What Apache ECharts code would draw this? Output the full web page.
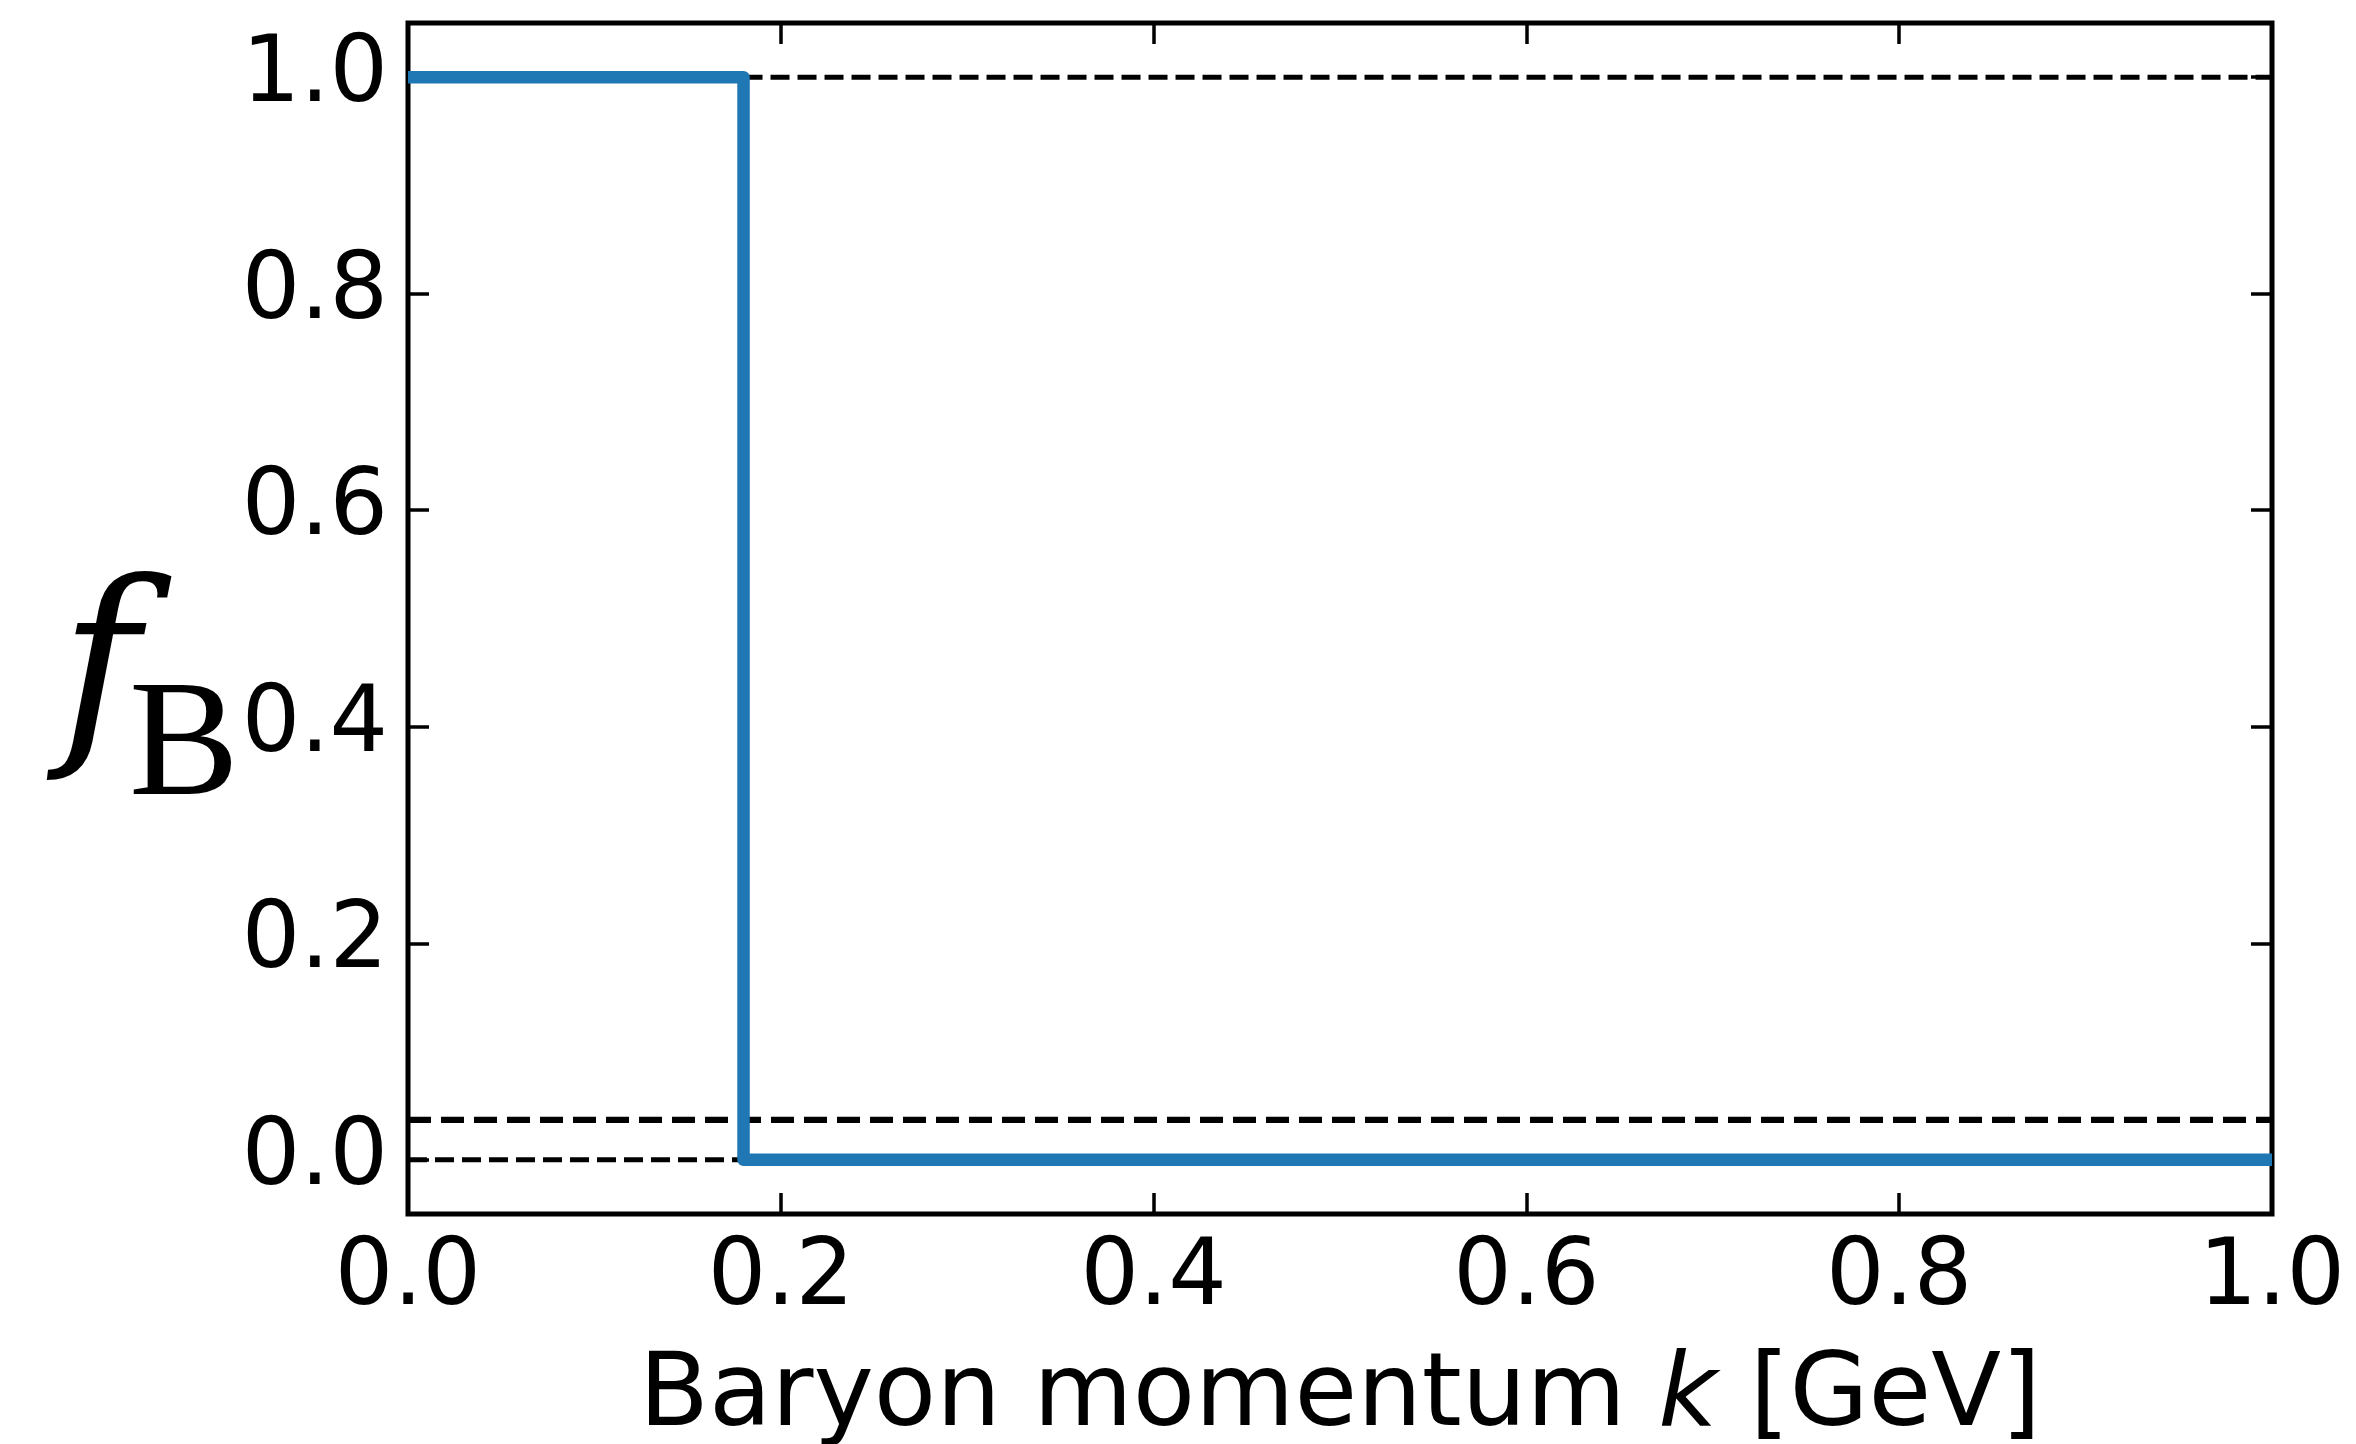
<!DOCTYPE html>
<html>
<head>
<meta charset="utf-8">
<script src="https://cdn.jsdelivr.net/npm/echarts@6/dist/echarts.min.js"></script>
<style>
  html, body { margin: 0; padding: 0; background: #fff; }
  #chart { width: 2356px; height: 1444px; }
</style>
</head>
<body>
<div id="chart"></div>
<script>
// Baryon occupation f_B(k): sharp step at the Fermi momentum
const stepK = [0, 0.18, 0.18, 1.0];
const stepF = [1, 1, 0, 0];

// Dashed reference levels
const upperRefK = [0.18, 1.0];
const upperRefF = [1, 1];
const lowerRefK = [0, 0.18];
const lowerRefF = [0, 0];
const offsetRefK = [0, 1.0];
const offsetRefF = [0.037, 0.037];

// Tick values
const xTicks = [0, 0.2, 0.4, 0.6, 0.8, 1.0];
const yTicks = [0, 0.2, 0.4, 0.6, 0.8, 1.0];

const pairs = (xs, ys) => xs.map((x, i) => [x, ys[i]]);

const FONT = 'DejaVu Sans';
const tickStyle = { color: '#000', width: 3.5 };
const noLine = { show: false, onZero: false };

const chart = echarts.init(document.getElementById('chart'), null, { renderer: 'canvas' });

chart.setOption({
  animation: false,
  backgroundColor: '#fff',
  grid: {
    left: 408, right: 84, top: 23, bottom: 230,
    outerBoundsMode: 'none', containLabel: false,
    show: true, borderColor: '#000', borderWidth: 5, backgroundColor: 'transparent'
  },
  xAxis: [
    {
      type: 'value', position: 'bottom', min: 0, max: 1, interval: 0.2,
      axisLine: noLine,
      splitLine: { show: false },
      axisTick: { show: true, inside: true, length: 21, lineStyle: tickStyle },
      axisLabel: {
        show: true, margin: 20, fontSize: 92, fontFamily: FONT, color: '#000',
        showMinLabel: true, showMaxLabel: true,
        formatter: v => v.toFixed(1)
      },
      name: '{n|Baryon momentum }{k|k}{n| [GeV]}',
      nameLocation: 'middle', nameGap: 133,
      nameTextStyle: {
        rich: {
          n: { fontSize: 102, fontFamily: FONT, color: '#000' },
          k: { fontSize: 102, fontFamily: FONT, fontStyle: 'italic', color: '#000' }
        }
      }
    },
    {
      type: 'value', position: 'top', min: 0, max: 1, interval: 0.2,
      axisLine: noLine, splitLine: { show: false },
      axisTick: { show: true, inside: true, length: 21, lineStyle: tickStyle },
      axisLabel: { show: false }
    }
  ],
  yAxis: [
    {
      type: 'value', position: 'left', min: -0.05, max: 1.05,
      axisLine: noLine, splitLine: { show: false },
      axisTick: { show: true, inside: true, length: 21, lineStyle: tickStyle, customValues: yTicks },
      axisLabel: {
        show: true, margin: 20, fontSize: 92, fontFamily: FONT, color: '#000',
        padding: [8, 0, 0, 0],
        customValues: yTicks, formatter: v => v.toFixed(1)
      }
    },
    {
      type: 'value', position: 'right', min: -0.05, max: 1.05,
      axisLine: noLine, splitLine: { show: false },
      axisTick: { show: true, inside: true, length: 21, lineStyle: tickStyle, customValues: yTicks },
      axisLabel: { show: false }
    }
  ],
  series: [
    {
      type: 'line', name: 'offset', data: pairs(offsetRefK, offsetRefF),
      symbol: 'none', z: 2, silent: true,
      lineStyle: { color: '#000', width: 6.3, type: [23, 10], cap: 'butt' }
    },
    {
      type: 'line', name: 'upper', data: pairs(upperRefK, upperRefF),
      symbol: 'none', z: 2, silent: true,
      lineStyle: { color: '#000', width: 5, type: [19, 8], cap: 'butt' }
    },
    {
      type: 'line', name: 'lower', data: pairs(lowerRefK, lowerRefF),
      symbol: 'none', z: 2, silent: true,
      lineStyle: { color: '#000', width: 5, type: [19, 8], cap: 'butt' }
    },
    {
      type: 'line', name: 'fB', data: pairs(stepK, stepF),
      symbol: 'none', z: 3, silent: true,
      lineStyle: { color: '#1f77b4', width: 12.5, join: 'round', cap: 'butt' }
    }
  ],
  graphic: [
    {
      type: 'text', x: 1340, y: -37, silent: true,
      style: { text: '(a)', fontSize: 92, fontFamily: FONT, fill: '#000', align: 'center', verticalAlign: 'middle' }
    },
    {
      type: 'text', x: 60, y: 679, silent: true,
      style: { text: 'f', fontSize: 215, fontFamily: 'DejaVu Serif', fontStyle: 'italic', fill: '#000', align: 'left', verticalAlign: 'middle' }
    },
    {
      type: 'text', x: 129, y: 751, silent: true,
      style: { text: 'B', fontSize: 165, fontFamily: 'Liberation Serif', fill: '#000', align: 'left', verticalAlign: 'middle' }
    }
  ]
});
</script>
</body>
</html>
